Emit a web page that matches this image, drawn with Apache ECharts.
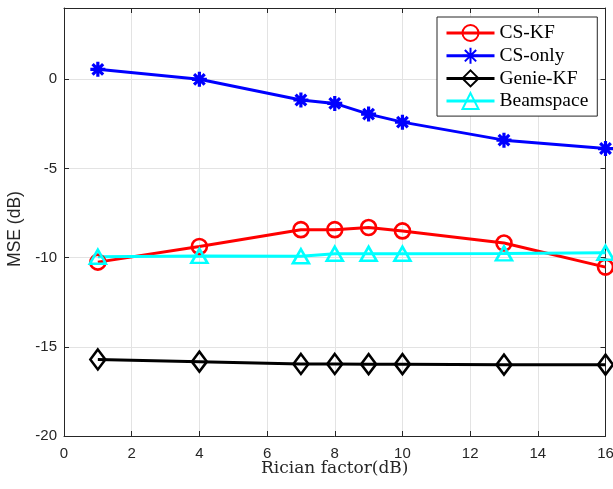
<!DOCTYPE html>
<html>
<head>
<meta charset="utf-8">
<script src="https://cdn.jsdelivr.net/npm/echarts@6/dist/echarts.min.js"></script>
<style>
  html, body { margin: 0; padding: 0; background: #fff; }
  #chart { width: 613px; height: 489px; }
</style>
</head>
<body>
<div id="chart"></div>
<script>
// Rician factor (dB) sample points
const ricianFactor = [1, 4, 7, 8, 9, 10, 13, 16];

// MSE (dB) per method
const csKF      = [-10.25, -9.37, -8.43, -8.43, -8.31, -8.50, -9.18, -10.53];
const csOnly    = [0.56, 0.00, -1.16, -1.35, -1.95, -2.40, -3.41, -3.88];
const genieKF   = [-15.71, -15.83, -15.96, -15.96, -15.97, -15.97, -16.00, -16.00];
const beamspace = [-9.95, -9.90, -9.92, -9.78, -9.78, -9.78, -9.76, -9.72];

const seriesNames = ['CS-KF', 'CS-only', 'Genie-KF', 'Beamspace'];

const xTicks = { min: 0, max: 16, interval: 2 };
const yTicks = { min: -20, max: 4, interval: 5 };

const ASTERISK = 'path://M0,-10L0,10M-10,0L10,0M-7.07,-7.07L7.07,7.07M-7.07,7.07L7.07,-7.07';

function pairs(vals) {
  return ricianFactor.map((x, i) => [x, vals[i]]);
}

function lineSeries(name, vals, color, symbol, size, bw) {
  return {
    name: name,
    type: 'line',
    data: pairs(vals),
    symbol: symbol,
    symbolSize: size,
    showAllSymbol: true,
    clip: false,
    lineStyle: { color: color, width: 3 },
    itemStyle: { color: 'rgba(0,0,0,0)', borderColor: color, borderWidth: bw },
    emphasis: { disabled: true },
    animation: false
  };
}

const axisColor = '#262626';
const sansFont = '"Liberation Sans", Arial, sans-serif';
const serifFont = '"Liberation Serif", "Times New Roman", serif';

const chart = echarts.init(document.getElementById('chart'), null, { renderer: 'canvas' });

chart.setOption({
  backgroundColor: '#ffffff',
  animation: false,
  grid: { left: 64, right: 7.5, top: 8, bottom: 53, containLabel: false, outerBoundsMode: 'none' },
  legend: {
    data: seriesNames,
    orient: 'vertical',
    left: 437,
    top: 17,
    padding: [6, 9, 5, 8],
    itemGap: 2.7,
    itemWidth: 48,
    itemHeight: 20,
    backgroundColor: '#ffffff',
    borderColor: '#262626',
    borderWidth: 1,
    lineStyle: { width: 3 },
    textStyle: { fontFamily: serifFont, fontSize: 19.5, color: '#000', lineHeight: 20 }
  },
  xAxis: [{
    type: 'value',
    min: xTicks.min, max: xTicks.max, interval: xTicks.interval,
    name: 'Rician factor(dB)',
    nameLocation: 'middle',
    nameGap: 24,
    nameMoveOverlap: false,
    nameTextStyle: { fontFamily: '"DejaVu Serif", serif', fontSize: 17, color: '#262626' },
    axisLine: { show: true, onZero: false, lineStyle: { color: axisColor, width: 1 } },
    axisTick: { show: true, inside: true, length: 5, lineStyle: { color: axisColor } },
    axisLabel: { fontFamily: sansFont, fontSize: 15, color: '#262626', margin: 10 },
    splitLine: { show: true, lineStyle: { color: '#e3e3e3', width: 1 } }
  }, {
    type: 'value', position: 'top',
    min: xTicks.min, max: xTicks.max, interval: xTicks.interval,
    axisLine: { show: true, onZero: false, lineStyle: { color: axisColor, width: 1 } },
    axisTick: { show: true, inside: true, length: 5, lineStyle: { color: axisColor } },
    axisLabel: { show: false },
    splitLine: { show: false }
  }],
  yAxis: [{
    type: 'value',
    min: yTicks.min, max: yTicks.max, interval: yTicks.interval,
    name: 'MSE (dB)',
    nameLocation: 'middle',
    nameGap: 38,
    nameTextStyle: { fontFamily: sansFont, fontSize: 17.5, color: '#262626', padding: [0, 14, 0, 0] },
    axisLine: { show: true, onZero: false, lineStyle: { color: axisColor, width: 1 } },
    axisTick: { show: true, inside: true, length: 5, lineStyle: { color: axisColor } },
    axisLabel: {
      fontFamily: sansFont, fontSize: 15, color: '#262626', margin: 7,
      formatter: v => (v % 5 === 0 ? String(v) : '')
    },
    splitLine: { show: true, lineStyle: { color: '#e3e3e3', width: 1 } }
  }, {
    type: 'value', position: 'right',
    min: yTicks.min, max: yTicks.max, interval: yTicks.interval,
    axisLine: { show: true, onZero: false, lineStyle: { color: axisColor, width: 1 } },
    axisTick: { show: true, inside: true, length: 5, lineStyle: { color: axisColor } },
    axisLabel: { show: false },
    splitLine: { show: false }
  }],
  series: [
    lineSeries(seriesNames[0], csKF, '#ff0000', 'circle', 15, 2.6),
    lineSeries(seriesNames[1], csOnly, '#0000ff', ASTERISK, 15, 3.2),
    lineSeries(seriesNames[2], genieKF, '#000000', 'diamond', [15, 20], 2.6),
    lineSeries(seriesNames[3], beamspace, '#00ffff', 'triangle', [16, 14], 2.6)
  ]
});
</script>
</body>
</html>
